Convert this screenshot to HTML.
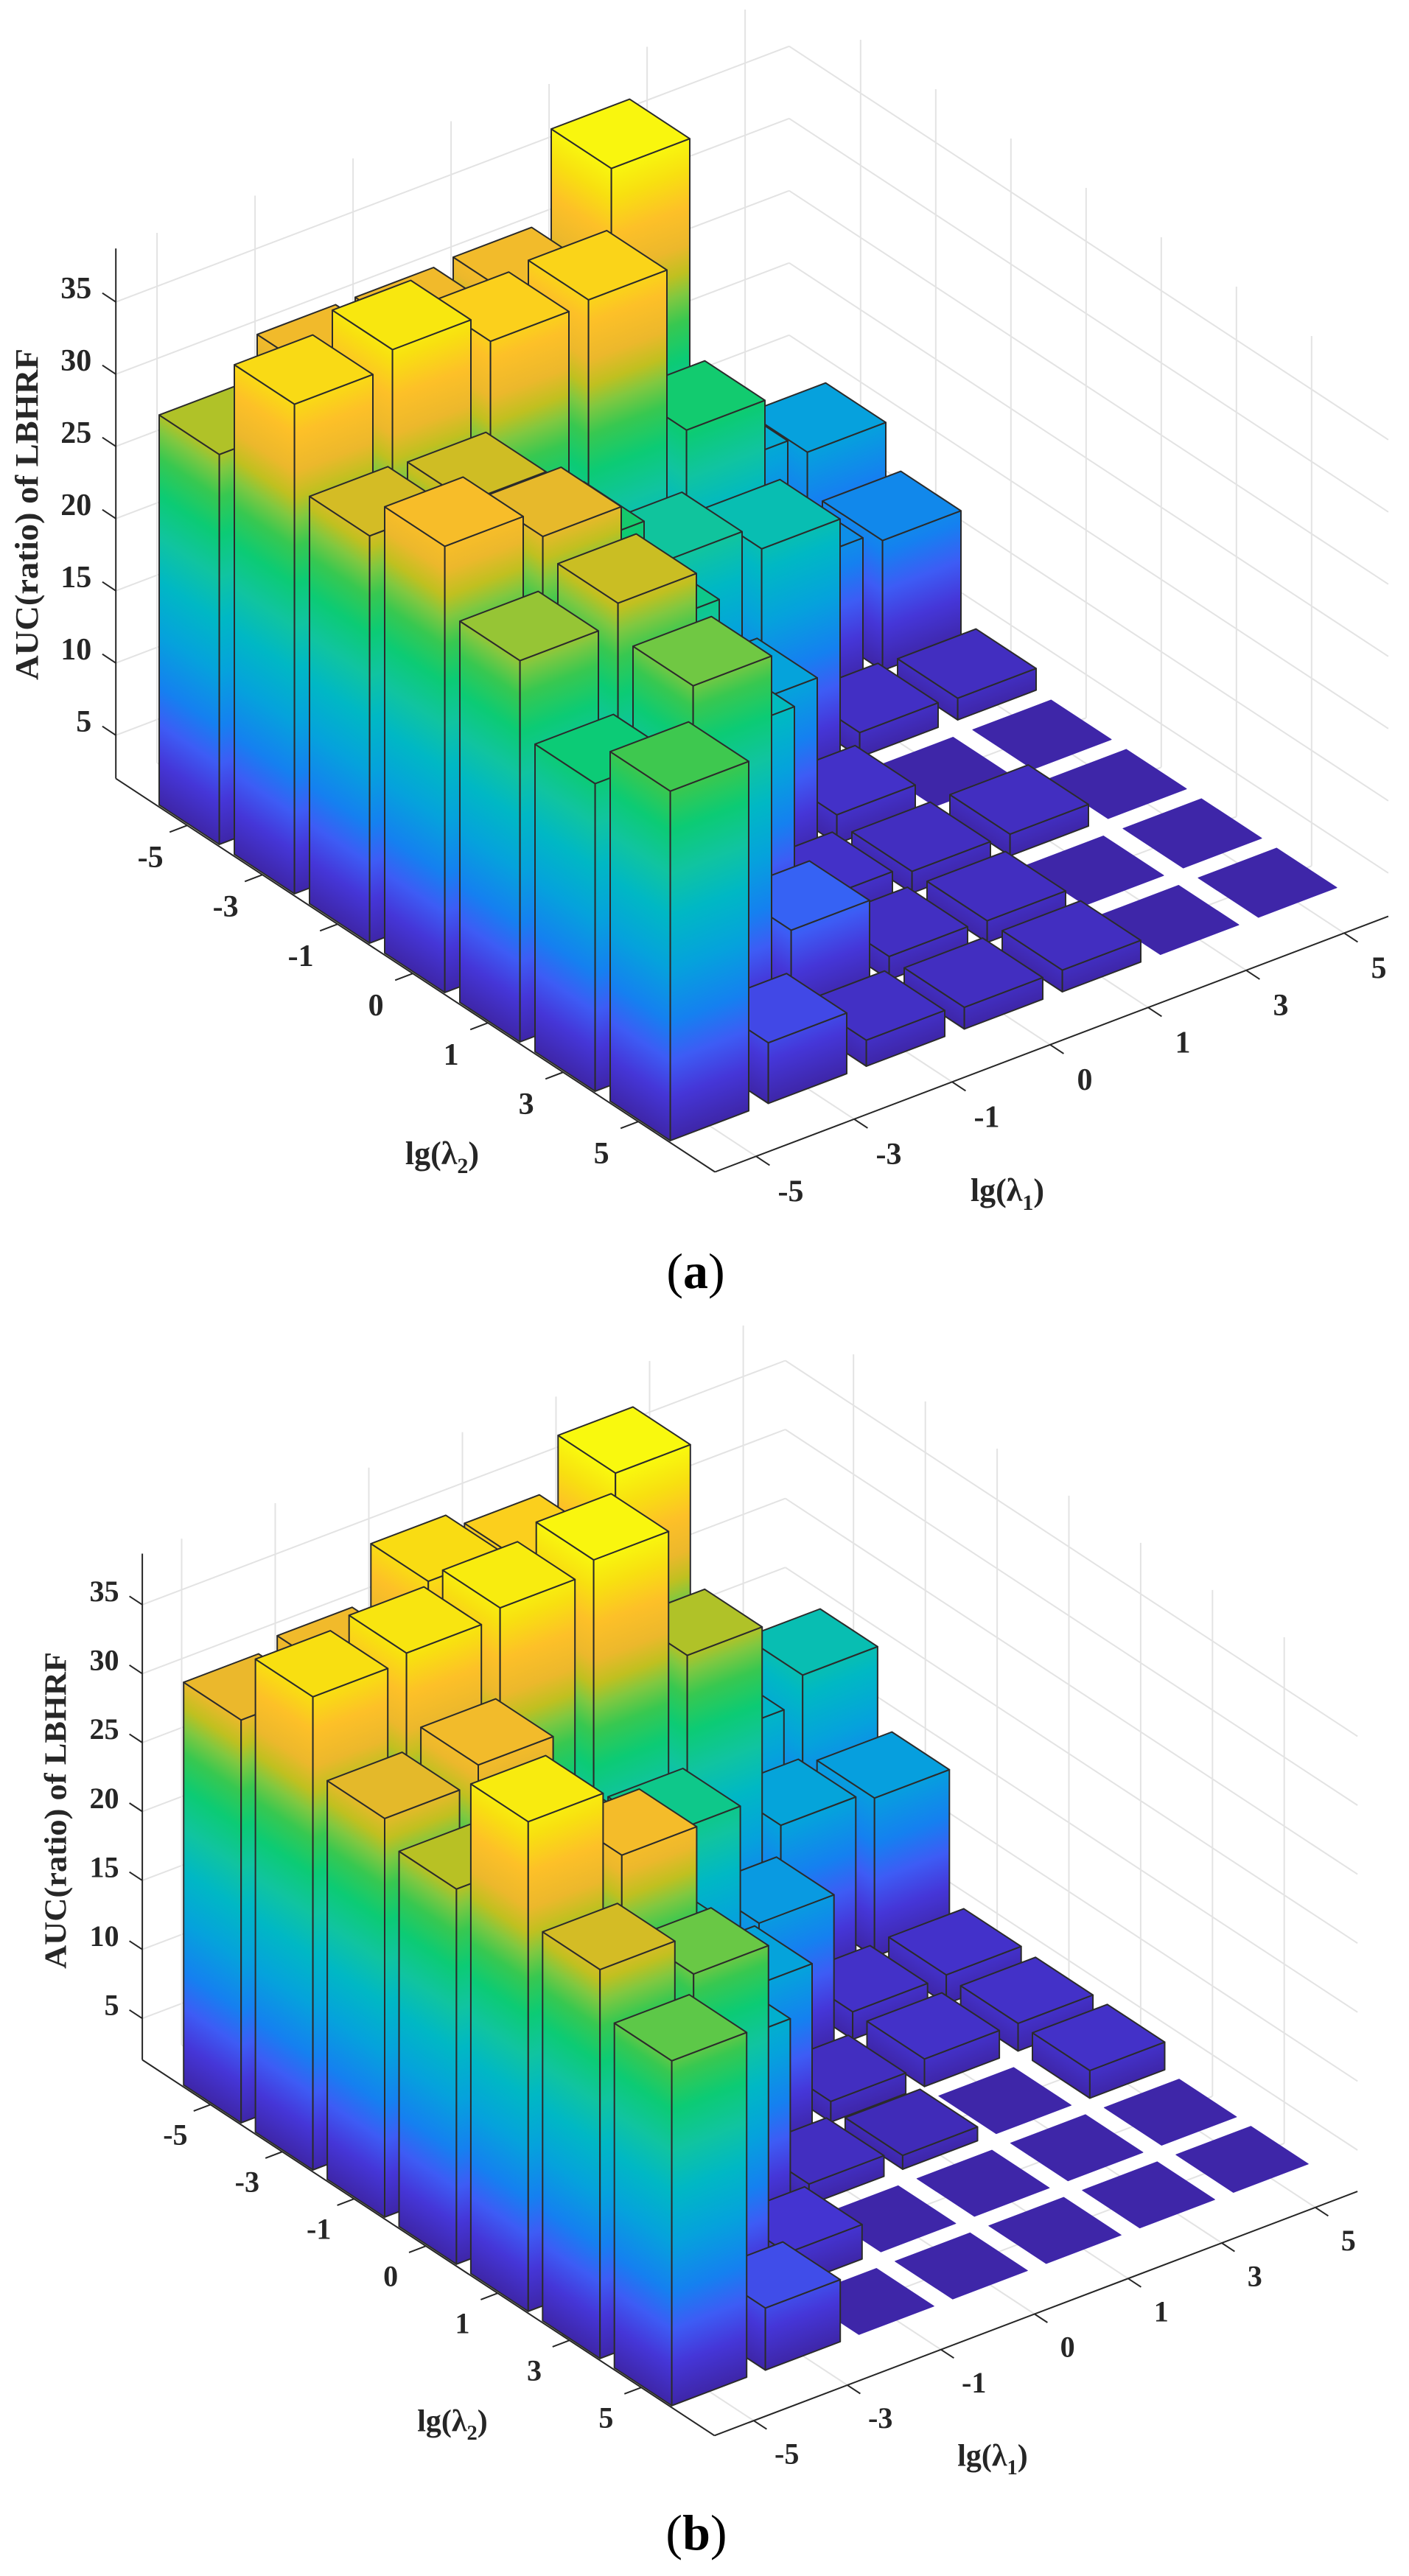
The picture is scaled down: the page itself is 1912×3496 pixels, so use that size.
<!DOCTYPE html>
<html><head><meta charset="utf-8">
<style>
html,body{margin:0;padding:0;background:#fff;}
#wrap{width:1912px;height:3496px;position:relative;overflow:hidden;background:#fff;}
svg text{font-family:"Liberation Serif","DejaVu Serif",serif;font-weight:bold;fill:#262626;}
</style></head>
<body><div id="wrap"></div>
<script>
(function(){
const ZC=37;
const cm=[[0,'#3e26a8'],[0.08,'#4536d8'],[0.15,'#3d5cf5'],[0.22,'#1580f0'],[0.32,'#05a2dc'],[0.42,'#00b8c4'],[0.5,'#10c4a0'],[0.58,'#0ccb74'],[0.65,'#38c850'],[0.7,'#80c840'],[0.74,'#c0c020'],[0.79,'#ecb82c'],[0.86,'#fdc028'],[0.93,'#f8e010'],[1,'#f9fb0e']];
function hex(c){return [parseInt(c.substr(1,2),16),parseInt(c.substr(3,2),16),parseInt(c.substr(5,2),16)];}
function cmap(t){t=Math.max(0,Math.min(1,t));for(let i=1;i<cm.length;i++){if(t<=cm[i][0]){const a=cm[i-1],b=cm[i];const f=(t-a[0])/(b[0]-a[0]);const ca=hex(a[1]),cb=hex(b[1]);return 'rgb('+ca.map((v,k)=>Math.round(v+(cb[k]-v)*f)).join(',')+')';}}return cm[cm.length-1][1];}
let stops='';cm.forEach(s=>{stops+='<stop offset="'+s[0]+'" stop-color="'+s[1]+'"/>';});
let defs='',body='',gid=0;
function mk(A,u,v,wz){return {A:A,u:u,v:v,wz:wz};}
const pa=mk([310,1099],[133,-50.5],[102,67],19.6);
const s=0.955;
const pb=mk([339,2836],[133*s,-50.5*s],[102*s,67*s],19.6*s);
[pa,pb].forEach(p=>{p.xmin=-0.42;p.xmax=6.45;p.ymin=-0.95;p.ymax=7.02;p.zmax=36.7;});
function P(p,x,y,h){return [p.A[0]+x*p.u[0]+y*p.v[0],p.A[1]+x*p.u[1]+y*p.v[1]-h*p.wz];}
function pt(a){return a[0].toFixed(1)+','+a[1].toFixed(1);}
function line(a,b,c,w){return '<line x1="'+a[0].toFixed(1)+'" y1="'+a[1].toFixed(1)+'" x2="'+b[0].toFixed(1)+'" y2="'+b[1].toFixed(1)+'" stroke="'+c+'" stroke-width="'+w+'"/>';}
function grad(p,P0,d){let n=[d[1],-d[0]];if(n[1]>0)n=[-n[0],-n[1]];const L=Math.hypot(n[0],n[1]);n=[n[0]/L,n[1]/L];const k=p.wz*Math.abs(n[1])*ZC;const id='g'+(gid++);
defs+='<linearGradient id="'+id+'" gradientUnits="userSpaceOnUse" x1="'+P0[0].toFixed(1)+'" y1="'+P0[1].toFixed(1)+'" x2="'+(P0[0]+n[0]*k).toFixed(1)+'" y2="'+(P0[1]+n[1]*k).toFixed(1)+'">'+stops+'</linearGradient>';return 'url(#'+id+')';}
function poly(ps,fill,stroke,sw){return '<polygon points="'+ps.map(pt).join(' ')+'" fill="'+fill+'" stroke="'+stroke+'" stroke-width="'+sw+'" stroke-linejoin="round"/>';}
function plot(p,H,labels){
 const gc='#e3e3e3';
 for(let i=0;i<7;i++){body+=line(P(p,i,p.ymin,0),P(p,i,p.ymax,0),gc,2);body+=line(P(p,p.xmin,i,0),P(p,p.xmax,i,0),gc,2);}
 for(let i=0;i<7;i++){body+=line(P(p,i,p.ymin,0),P(p,i,p.ymin,p.zmax),gc,2);}
 for(let i=0;i<7;i++){body+=line(P(p,p.xmax,i,0),P(p,p.xmax,i,p.zmax),gc,2);}
 for(let t=5;t<=35;t+=5){const h=t-2;body+=line(P(p,p.xmin,p.ymin,h),P(p,p.xmax,p.ymin,h),gc,2);body+=line(P(p,p.xmax,p.ymin,h),P(p,p.xmax,p.ymax,h),gc,2);}
 const bars=[];for(let x=0;x<7;x++)for(let y=0;y<7;y++)bars.push([x,y,H[x][y]]);
 bars.sort((a,b)=>(a[1]-a[0])-(b[1]-b[0]));
 const ec='#2b2b2b';
 bars.forEach(b=>{const x=b[0],y=b[1],h=b[2];const d=0.4;
  const F=P(p,x-d,y+d,0),R=P(p,x+d,y+d,0),L=P(p,x-d,y-d,0);
  const Fh=P(p,x-d,y+d,h),Rh=P(p,x+d,y+d,h),Lh=P(p,x-d,y-d,h),Kh=P(p,x+d,y-d,h);
  const tc=cmap(h/ZC);
  if(h<0.3){body+=poly([Lh,Fh,Rh,Kh],tc,tc,1);return;}
  body+=poly([L,F,Fh,Lh],grad(p,F,p.v),ec,2);
  body+=poly([F,R,Rh,Fh],grad(p,F,p.u),ec,2);
  body+=poly([Lh,Fh,Rh,Kh],tc,ec,2);
 });
 const ac='#262626';
 body+=line(P(p,p.xmin,p.ymin,0),P(p,p.xmin,p.ymin,p.zmax),ac,2);
 body+=line(P(p,p.xmin,p.ymin,0),P(p,p.xmin,p.ymax,0),ac,2);
 body+=line(P(p,p.xmin,p.ymax,0),P(p,p.xmax,p.ymax,0),ac,2);
 const sc=p.wz/19.6;const fs=(42*sc).toFixed(1);
 const tl=['-5','-3','-1','0','1','3','5'];
 for(let t=5;t<=35;t+=5){const a=P(p,p.xmin,p.ymin,t-2);body+=line(a,[a[0]-0.18*p.v[0],a[1]-0.18*p.v[1]],ac,2);
  body+='<text x="'+(a[0]-33*sc).toFixed(1)+'" y="'+(a[1]-19*sc+14*sc).toFixed(1)+'" font-size="'+fs+'" text-anchor="end">'+t+'</text>';}
 for(let i=0;i<7;i++){const a=P(p,p.xmin,i,0);body+=line(a,[a[0]-0.18*p.u[0],a[1]-0.18*p.u[1]],ac,2);
  body+='<text x="'+(a[0]-50*sc).toFixed(1)+'" y="'+(a[1]+43*sc+14*sc).toFixed(1)+'" font-size="'+fs+'" text-anchor="middle">'+tl[i]+'</text>';
  const c=P(p,i,p.ymax,0);body+=line(c,[c[0]+0.18*p.v[0],c[1]+0.18*p.v[1]],ac,2);
  body+='<text x="'+(c[0]+47*sc).toFixed(1)+'" y="'+(c[1]+47*sc+14*sc).toFixed(1)+'" font-size="'+fs+'" text-anchor="middle">'+tl[i]+'</text>';}
 const lf=(44*sc).toFixed(1);
 body+='<text transform="translate('+labels.yl[0]+','+labels.yl[1]+') rotate(-90)" font-size="'+lf+'" text-anchor="middle" textLength="'+(450*sc).toFixed(0)+'" lengthAdjust="spacingAndGlyphs" dy="'+(15*sc).toFixed(1)+'">AUC(ratio) of LBHRF</text>';
 body+='<text x="'+labels.l2[0]+'" y="'+(labels.l2[1]+10*sc)+'" font-size="'+lf+'" text-anchor="middle">lg(λ<tspan font-size="'+(30*sc).toFixed(1)+'" dy="'+(12*sc).toFixed(1)+'">2</tspan><tspan dy="'+(-12*sc).toFixed(1)+'">)</tspan></text>';
 body+='<text x="'+labels.l1[0]+'" y="'+(labels.l1[1]+10*sc)+'" font-size="'+lf+'" text-anchor="middle">lg(λ<tspan font-size="'+(30*sc).toFixed(1)+'" dy="'+(12*sc).toFixed(1)+'">1</tspan><tspan dy="'+(-12*sc).toFixed(1)+'">)</tspan></text>';
 body+='<text x="'+labels.cap[0]+'" y="'+labels.cap[1]+'" font-size="68" text-anchor="middle" style="font-weight:normal;fill:#000">(<tspan style="font-weight:bold">'+labels.t+'</tspan>)</text>';
}
const Ha=[[27,33.9,28.2,30.9,26.4,21.3,24.2],[30,35.1,28,29,27.8,25.5,4.2],[30,33.1,22,20,16,6,1.8],[30.2,33.4,18.7,12,2,1.6,1.5],[36.5,21.8,17,2,1.5,1.5,1.5],[13,9.7,1.7,0,1.5,0,0],[11.7,9.0,1.5,0,0,0,0]];
const Hb=[[29.2,34.3,28.9,27.2,35.5,28.2,25],[30,34.9,30.2,24,30.5,25.3,4.5],[34.1,35.6,21,18,14,2.5,0],[33,36.5,20,12,1.5,0,0],[36.8,27,11,1.5,1,0,0],[15,12.1,2,2,0,0,0],[17,11.5,2.1,2,2,0,0]];
plot(pa,Ha,{yl:[36,698],l2:[600,1570],l1:[1367,1620],cap:[944,1748],t:'a'});
plot(pb,Hb,{yl:[75,2457],l2:[614,3290],l1:[1347,3337],cap:[945,3460],t:'b'});
document.getElementById('wrap').innerHTML='<svg xmlns="http://www.w3.org/2000/svg" width="1912" height="3496" viewBox="0 0 1912 3496"><defs>'+defs+'</defs>'+body+'</svg>';
})();
</script>
</body></html>
